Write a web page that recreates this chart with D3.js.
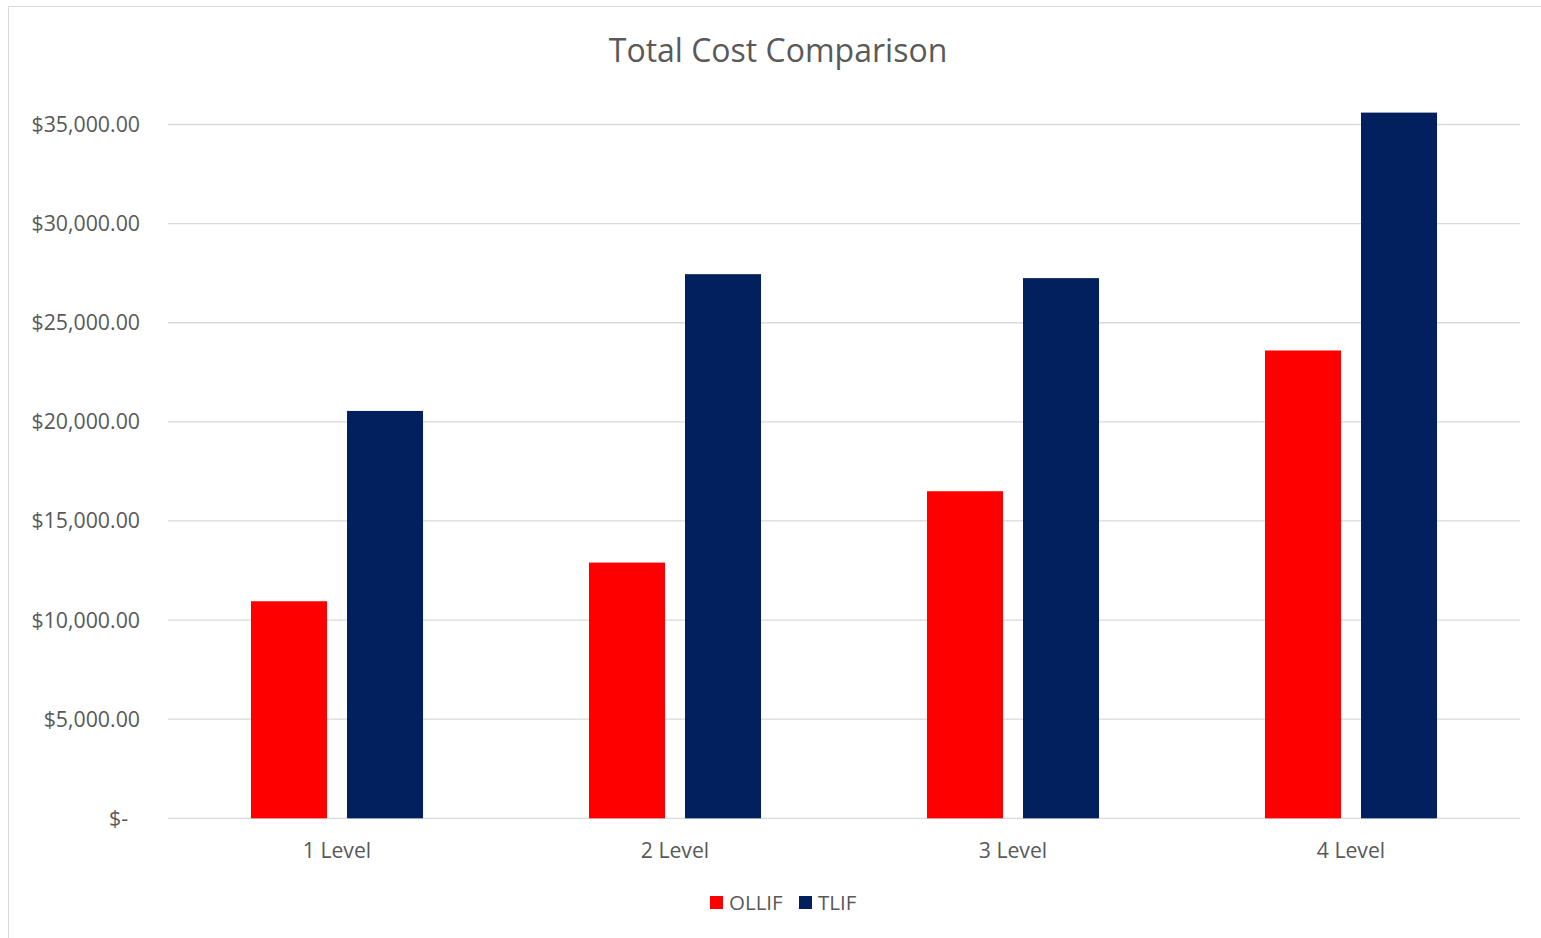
<!DOCTYPE html>
<html>
<head>
<meta charset="utf-8">
<script src="https://cdn.jsdelivr.net/npm/d3@7"></script>
<style>
  body { margin: 0; background: #fff; }
  text { font-family: "Open Sans", "Noto Sans", sans-serif; fill: #595959; }
</style>
</head>
<body>
<script>
// chart data
const categories = ["1 Level", "2 Level", "3 Level", "4 Level"];
const seriesNames = ["OLLIF", "TLIF"];
const ollif = [10950, 12900, 16500, 23600];
const tlif = [20550, 27450, 27250, 35600];
const yTicks = [0, 5000, 10000, 15000, 20000, 25000, 30000, 35000];
const colors = ["#ff0000", "#02205e"];

const width = 1541, height = 938;
let plotW = 1520 - 168, plotH = 818.3 - 124.5;

let svg = d3.select("body").append("svg")
    .attr("width", width)
    .attr("height", height);

// outer chart border
svg.append("rect")
    .attr("x", 8.5).attr("y", 6.5)
    .attr("width", width + 20).attr("height", height + 20)
    .attr("fill", "none")
    .attr("stroke", "#d9d9d9");

let g = svg.append("g").attr("transform", `translate(168,${818.3 - plotH})`);

let y = d3.scaleLinear().domain([0, 35000]).range([plotH, 0]);
let x0 = d3.scaleBand().domain(categories).range([0, plotW])
    .paddingInner(0.491).paddingOuter(0.2455);
let x1 = d3.scaleBand().domain(seriesNames).range([0, x0.bandwidth()])
    .paddingInner(0.2083);

let fmt = v => v === 0 ? "$-" : "$" + d3.format(",.2f")(v);

// gridlines
g.append("g")
    .selectAll("line")
    .data(yTicks)
    .enter().append("line")
    .attr("x1", 0).attr("x2", plotW)
    .attr("y1", d => y(d)).attr("y2", d => y(d))
    .attr("stroke", "#d9d9d9")
    .attr("stroke-width", 1.3);

// y labels
g.append("g")
    .selectAll("text")
    .data(yTicks)
    .enter().append("text")
    .attr("x", d => d === 0 ? -40 : -28)
    .attr("y", d => y(d))
    .attr("dy", "0.35em")
    .attr("text-anchor", "end")
    .style("font-size", "21.3px")
    .text(fmt);

let rows = categories.map((c, i) => ({cat: c, vals: [ollif[i], tlif[i]]}));

g.append("g")
    .selectAll("g")
    .data(rows)
    .enter().append("g")
    .attr("transform", d => `translate(${x0(d.cat)},0)`)
    .selectAll("rect")
    .data(d => d.vals.map((v, j) => ({name: seriesNames[j], v: v, j: j})))
    .enter().append("rect")
    .attr("x", d => x1(d.name))
    .attr("width", x1.bandwidth())
    .attr("y", d => y(d.v))
    .attr("height", d => y(0) - y(d.v))
    .attr("fill", d => colors[d.j]);

// category labels
g.append("g")
    .selectAll("text")
    .data(categories)
    .enter().append("text")
    .attr("x", d => x0(d) + x0.bandwidth() / 2)
    .attr("y", plotH + 32)
    .attr("dy", "0.35em")
    .attr("text-anchor", "middle")
    .style("font-size", "21.2px")
    .text(d => d);

// title
svg.append("text")
    .attr("x", 778)
    .attr("y", 51)
    .attr("dy", "0.35em")
    .attr("text-anchor", "middle")
    .style("font-size", "32px")
    .text("Total Cost Comparison");

// legend
let legendX = [710, 799];
let legend = svg.append("g")
    .selectAll("g")
    .data(seriesNames)
    .enter().append("g")
    .attr("transform", (d, i) => `translate(${legendX[i]},896)`);
legend.append("rect")
    .attr("width", 13).attr("height", 13)
    .attr("fill", (d, i) => colors[i]);
legend.append("text")
    .attr("x", 19).attr("y", 7)
    .attr("dy", "0.35em")
    .style("font-size", "20.5px")
    .text(d => d);
</script>
</body>
</html>
